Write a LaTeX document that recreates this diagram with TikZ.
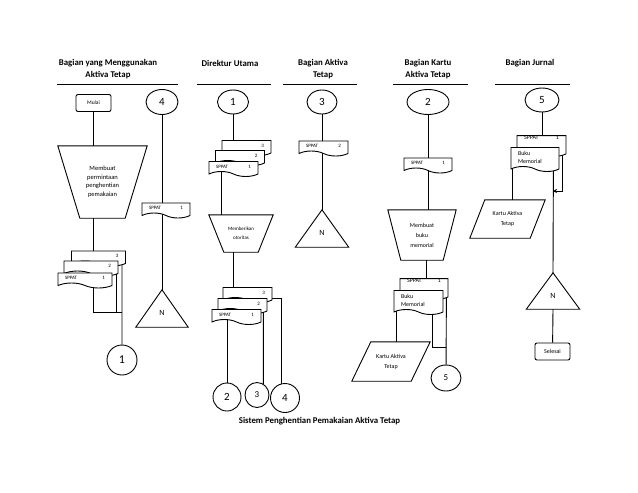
\documentclass[tikz,border=0pt]{standalone}
\usepackage{fontspec}
\setmainfont{Carlito}
\usetikzlibrary{arrows.meta,calc,shapes.geometric,shapes.symbols,backgrounds}
% one text row of a document symbol, left and right part
\newcommand{\docrow}[2]{\makebox[\linewidth]{#1\hfill #2}}
% outlines for symbols that TikZ has no shape for
\newcommand{\manualop}[2]{\draw[flow] (#1.north west) -- (#1.north east) -- ([xshift=-#2pt]#1.south east) -- ([xshift=#2pt]#1.south west) -- cycle;}
\newcommand{\storetri}[1]{\draw[flow] (#1.south west) -- (#1.north) -- (#1.south east) -- cycle;}
\newcommand{\ioshape}[2]{\draw[flow] ($(#1.north west)+(#2/2,0)$) -- ($(#1.north east)+(#2/2,0)$) -- ($(#1.south east)-(#2/2,0)$) -- ($(#1.south west)-(#2/2,0)$) -- cycle;}

\begin{document}
\begin{tikzpicture}[x=1pt,y=-1pt,
    flow/.style={line width=0.9pt},
    head/.style={font=\fontsize{8.8}{12}\selectfont\bfseries, align=center, inner sep=0pt},
    term/.style={draw, flow, fill=white, rounded corners=2pt, minimum width=35pt, minimum height=17pt, inner sep=0pt, font=\fontsize{5.5}{6}\selectfont},
    conn/.style={draw, flow, fill=white, ellipse, inner sep=0pt, minimum width=31pt, minimum height=24pt, font=\fontsize{11}{12}\selectfont},
    doc/.style={draw, flow, fill=white, tape, tape bend top=none, tape bend bottom=out and in, tape bend height=5pt, inner xsep=7pt, inner ysep=0pt, minimum height=15pt, text width=#1, align=left, font=\fontsize{5}{8}\selectfont},
    proc/.style={inner sep=0pt, align=center},
    store/.style={minimum width=52pt, minimum height=37pt, inner sep=0pt, text height=14pt, font=\fontsize{8}{8}\selectfont},
    io/.style={inner sep=0pt, align=center, font=\fontsize{6}{10}\selectfont}
]
\useasboundingbox (0,0) rectangle (638,493);

% --- headers ---
\node[head] (hUser) at (108,69) {Bagian yang Menggunakan\\Aktiva Tetap};
\node[head] (hDir) at (230,63) {Direktur Utama};
\node[head] (hAkt) at (323,69) {Bagian Aktiva\\Tetap};
\node[head] (hKartu) at (428,69) {Bagian Kartu\\Aktiva Tetap};
\node[head] (hJurnal) at (530,63) {Bagian Jurnal};
\draw[flow] (57,84) -- (178,84);
\draw[flow] (197,84) -- (271,84);
\draw[flow] (283,84) -- (357,84);
\draw[flow] (393,84) -- (468,84);
\draw[flow] (495,84) -- (570,84);

% --- Bagian yang Menggunakan Aktiva Tetap ---
\node[term] (mulai) at (93.5,103) {Mulai};
\node[proc, minimum width=89pt, minimum height=72pt, font=\fontsize{6.5}{8.5}\selectfont] (p1) at (102.5,182) {Membuat\\permintaan\\penghentian\\pemakaian};
\manualop{p1}{22}
\node[doc=40pt] (d3) at (98.5,256) {\docrow{}{3}};
\node[doc=40pt] (d2) at (91,266) {\docrow{}{2}};
\node[doc=40pt] (d1) at (85,278) {\docrow{SPPAT}{1}};
\node[conn, minimum width=30pt, minimum height=30pt, font=\fontsize{12}{12}\selectfont] (c1b) at (122,360) {1};
\coordinate (m1) at (122,312);

\node[conn, minimum width=32pt, minimum height=25pt] (c4a) at (162,102) {4};
\node[doc=34pt] (g1) at (166,208) {\docrow{SPPAT}{1}};
\node[store] (n1) at (162,308.5) {N};
\storetri{n1}

% --- Direktur Utama ---
\node[conn] (c1) at (233,102) {1};
\node[doc=35pt] (e3) at (246.5,145.5) {\docrow{}{3}};
\node[doc=35pt] (e2) at (240,155.5) {\docrow{}{2}};
\node[doc=35pt] (e1) at (233.5,166.5) {\docrow{SPPAT}{1}};
\node[proc, minimum width=64pt, minimum height=37pt, font=\fontsize{5}{9}\selectfont] (p2) at (241,233.5) {Memberikan\\otoritas};
\manualop{p2}{15}
\node[doc=35pt] (f3) at (247.5,292.5) {\docrow{}{3}};
\node[doc=35pt] (f2) at (242.5,303.5) {\docrow{}{2}};
\node[doc=35pt] (f1) at (236.5,314.5) {\docrow{SPPAT}{1}};
\node[conn, minimum width=28pt, minimum height=28pt] (c2) at (227,397) {2};
\node[conn, minimum width=24pt, minimum height=25pt, font=\fontsize{9}{9}\selectfont] (c3) at (257,395) {3};
\node[conn, minimum width=29pt, minimum height=29pt] (c4) at (285,398) {4};

% --- Bagian Aktiva Tetap ---
\node[conn, minimum width=30pt] (c3a) at (322,102) {3};
\node[doc=35pt] (h1) at (323.5,146) {\docrow{SPPAT}{2}};
\node[store, minimum width=53pt] (n2) at (322,228.5) {N};
\storetri{n2}

% --- Bagian Kartu Aktiva Tetap ---
\node[conn, minimum width=42pt, minimum height=25pt] (c2a) at (428,102) {2};
\node[doc=34pt] (k1) at (428,163) {\docrow{SPPAT}{1}};
\node[proc, minimum width=68pt, minimum height=50pt, font=\fontsize{6}{10}\selectfont] (p3) at (422,235) {Membuat\\buku\\memorial};
\manualop{p3}{13}
\node[doc=34pt, minimum height=20pt, text depth=12pt, font=\fontsize{6}{8}\selectfont] (k2) at (424,286.5) {\docrow{SPPAT}{1}};
\node[doc=35pt, minimum height=24pt, font=\fontsize{6}{8}\selectfont] (k3) at (418.5,300) {Buku\\Memorial};
\node[io, minimum width=59pt, minimum height=39pt] (q1) at (391,361.5) {Kartu Aktiva\\Tetap};
\ioshape{q1}{19}
\node[conn, minimum width=30pt, minimum height=26pt, font=\fontsize{9}{9}\selectfont] (c5a) at (446,378) {5};
\coordinate (m2) at (446,347);

% --- Bagian Jurnal ---
\node[conn, minimum width=34pt] (c5b) at (542,100) {5};
\node[doc=35pt, minimum height=20pt, text depth=12pt, font=\fontsize{6}{8}\selectfont] (j2) at (541.5,143.5) {\docrow{SPPAT}{1}};
\node[doc=34pt, minimum height=24pt, font=\fontsize{6}{8}\selectfont] (j3) at (535,157) {Buku\\Memorial};
\node[io, minimum width=60pt, minimum height=38pt] (q2) at (507.5,219) {Kartu Aktiva\\Tetap};
\ioshape{q2}{15}
\node[store, minimum width=53pt, minimum height=36pt] (n3) at (553,291) {N};
\storetri{n3}
\node[term, font=\fontsize{6}{6}\selectfont] (selesai) at (552.5,351.5) {Selesai};
\coordinate (m3) at (553,191);

\node[head] (title) at (319.5,421) {Sistem Penghentian Pemakaian Aktiva Tetap};

% --- flow lines ---
\begin{scope}[on background layer]
\draw[flow] (mulai) -- (mulai |- p1.north);
\draw[flow] (p1.south -| mulai) -- (d3.north -| mulai);
\draw[flow] (d1 -| mulai) |- (m1);
\draw[flow] ([xshift=-2pt]d2.east) -- ([xshift=-2pt]d2.east |- m1);
\draw[flow] ([xshift=-4pt]d3.east) -- (c1b);
\draw[flow] (c4a) -- (c4a |- g1.north);
\draw[flow] (g1 -| c4a) -- (n1.north);

\draw[flow] (c1) -- (c1 |- e3.north);
\draw[flow] ([xshift=13pt]e1.west) -- ([xshift=13pt]e1.west |- p2.north);
\draw[flow] (p2.south -| c1) -- (f3.north -| c1);
\draw[flow] (f1 -| c2) -- (c2);
\draw[flow] ([xshift=-4pt]f2.east) -- (c3.60);
\draw[flow] ([yshift=-5.5pt]f3.east) -| (c4.105);

\draw[flow] (c3a) -- (c3a |- h1.north);
\draw[flow] (h1 -| c3a) -- (n2.north);

\draw[flow] (c2a) -- (c2a |- k1.north);
\draw[flow] (k1 -| c2a) -- (c2a |- p3.north);
\draw[flow] ([xshift=4pt]p3.south) -- ([xshift=4pt]p3.south |- k2.north);
\draw[flow] ([xshift=3pt]k3.west) -- ([xshift=3pt]k3.west |- q1.north);
\draw[flow] ([xshift=-11pt]k3.east) |- (m2);
\draw[flow] ([xshift=-2pt]k2.east) -- (c5a);

\draw[flow] (c5b) -- (c5b |- j2.north);
\draw[flow] ([xshift=2pt]j3.west) -- ([xshift=2pt]j3.west |- q2.north);
\draw[flow] ([xshift=-6pt]j3.east) -- (n3.north);
\draw[flow, -{Stealth[length=4pt,width=4pt]}] ([xshift=-4pt]j2.east) |- (m3);
\draw[flow] (n3.south) -- (selesai);
\end{scope}
\end{tikzpicture}
\end{document}
